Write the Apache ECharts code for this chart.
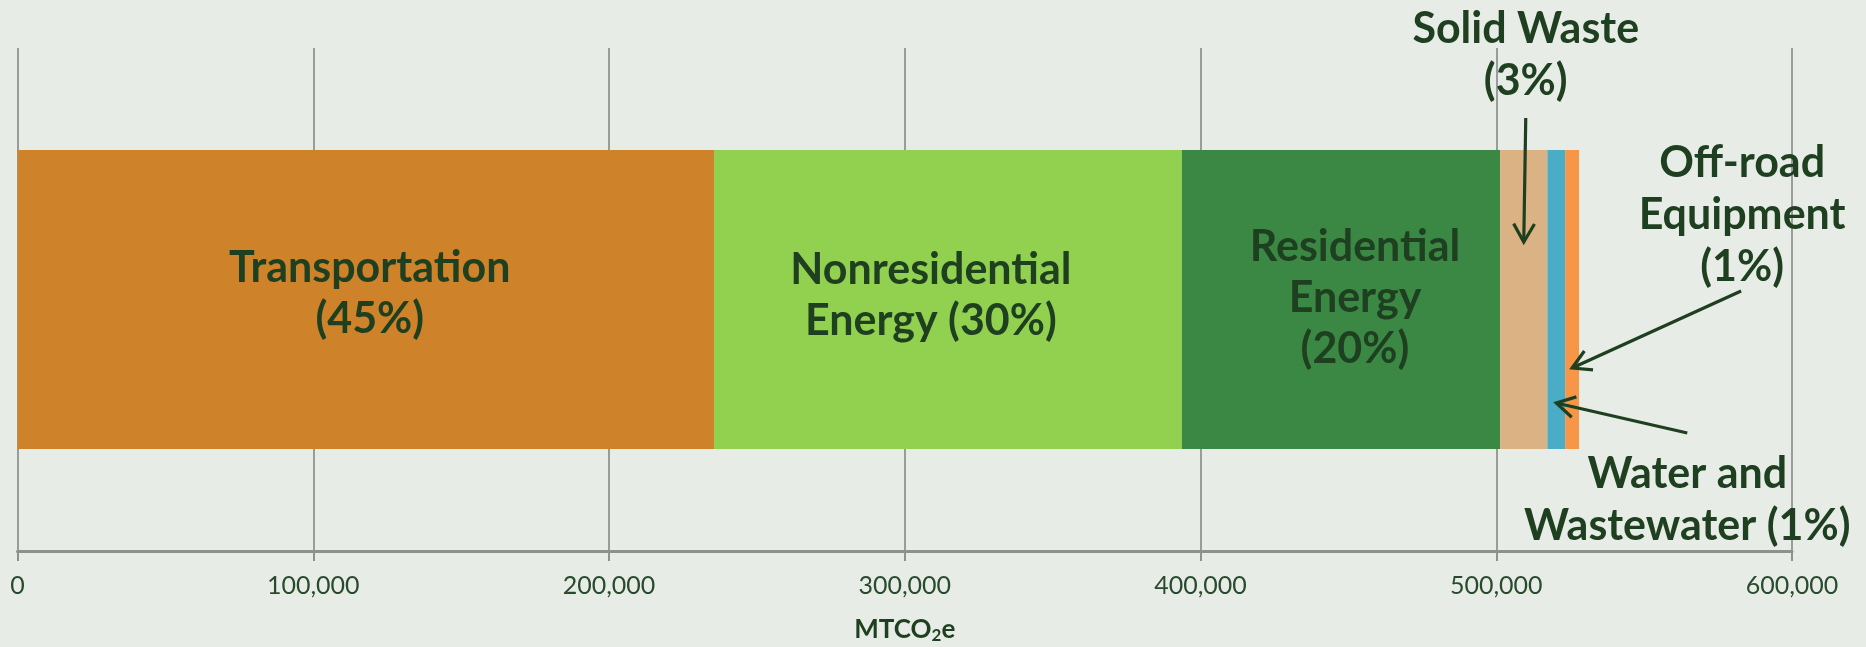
<!DOCTYPE html>
<html>
<head>
<meta charset="utf-8">
<script src="https://cdn.jsdelivr.net/npm/echarts@6/dist/echarts.min.js"></script>
<style>
html,body{margin:0;padding:0;background:#E7ECE6;}
#chart{width:1866px;height:647px;}
</style>
</head>
<body>
<div id="chart"></div>
<script>
// ---- data ----
const categories = ['Transportation', 'Nonresidential Energy', 'Residential Energy', 'Solid Waste', 'Water and Wastewater', 'Off-road Equipment'];
const values = [235500, 158200, 107600, 16000, 6000, 4700];
const percents = [45, 30, 20, 3, 1, 1];
const labelTexts = ['Transportation\n(45%)', 'Nonresidential\nEnergy (30%)', 'Residential\nEnergy\n(20%)', 'Solid Waste\n(3%)', 'Off-road\nEquipment\n(1%)', 'Water and\nWastewater (1%)'];
const colors = ['#CE8229', '#92D050', '#3A8843', '#DBB283', '#4BACC6', '#F79646'];
const axisMin = 0, axisMax = 600000, axisInterval = 100000;
const axisTitle = 'MTCO';

const TEXT = '#1E3F20';
const FONT = 'Lato, "DejaVu Sans", sans-serif';
const LABEL_SIZE = 43;
const insideLabelOffsets = [[4, -6], [-17, -4], [14, -1]];

const chart = echarts.init(document.getElementById('chart'), null, {renderer: 'canvas'});

const series = categories.map((name, i) => ({
  name: name,
  type: 'bar',
  stack: 'total',
  barWidth: 299,
  data: [values[i]],
  itemStyle: {color: colors[i]},
  label: i < 3 ? {
    show: true,
    position: 'inside',
    formatter: labelTexts[i],
    offset: insideLabelOffsets[i],
    color: TEXT,
    fontFamily: FONT,
    fontWeight: 'bold',
    fontSize: LABEL_SIZE,
    lineHeight: 51
  } : {show: false},
  emphasis: {disabled: true},
  animation: false
}));

chart.setOption({
  backgroundColor: '#E7ECE6',
  animation: false,
  grid: {left: 17.5, right: 74, top: 48, bottom: 96, containLabel: false, outerBoundsMode: 'none'},
  xAxis: {
    type: 'value',
    min: axisMin,
    max: axisMax,
    interval: axisInterval,
    axisLine: {show: true, lineStyle: {color: '#8E918D', width: 3}},
    axisTick: {show: true, length: 10, lineStyle: {color: '#8E918D', width: 2}},
    splitLine: {show: true, lineStyle: {color: '#9A9C99', width: 2}},
    axisLabel: {
      color: '#2A4A2D',
      fontFamily: FONT,
      fontSize: 25,
      margin: 22,
      formatter: v => v.toLocaleString('en-US')
    },
    name: '{a|' + axisTitle + '}{s|2}{a|e}',
    nameLocation: 'middle',
    nameGap: 64,
    nameTextStyle: {
      rich: {
        a: {color: TEXT, fontFamily: FONT, fontWeight: 'bold', fontSize: 26},
        s: {color: TEXT, fontFamily: FONT, fontWeight: 'bold', fontSize: 17, padding: [12, 0, 0, 0]}
      }
    }
  },
  yAxis: {
    type: 'category',
    data: [''],
    show: false
  },
  series: series
});

// ---- annotations (positioned from data through the axis scale) ----
const starts = [];
values.reduce((acc, v, i) => { starts[i] = acc; return acc + v; }, 0);
const mid = i => chart.convertToPixel({xAxisIndex: 0}, starts[i] + values[i] / 2);

function arrow(x1, y1, x2, y2) {
  const ang = Math.atan2(y2 - y1, x2 - x1);
  const L = 21, spread = 0.52;
  const a1 = ang + Math.PI - spread, a2 = ang + Math.PI + spread;
  const style = {stroke: TEXT, lineWidth: 3.2, fill: null, lineCap: 'butt'};
  return [
    {type: 'line', z: 100, shape: {x1: x1, y1: y1, x2: x2, y2: y2}, style: style, silent: true},
    {type: 'polyline', z: 100, shape: {points: [[x2 + L * Math.cos(a1), y2 + L * Math.sin(a1)], [x2, y2], [x2 + L * Math.cos(a2), y2 + L * Math.sin(a2)]]}, style: style, silent: true}
  ];
}
function note(text, x, y) {
  return {
    type: 'text', silent: true, z: 100,
    style: {text: text, x: x, y: y, align: 'center', verticalAlign: 'middle',
      fill: TEXT, font: 'bold ' + LABEL_SIZE + 'px ' + FONT, lineHeight: 52}
  };
}

const xSolid = mid(3), xWater = mid(4), xOff = mid(5);
const graphics = [];
graphics.push(note(labelTexts[3], xSolid + 2, 55));
graphics.push(...arrow(xSolid + 2, 118, xSolid, 242));
graphics.push(note(labelTexts[4], xOff + 170, 215));
graphics.push(...arrow(xOff + 169, 291, xOff, 368));
graphics.push(note(labelTexts[5], xWater + 131, 500));
graphics.push(...arrow(xWater + 131, 433, xWater, 403));

chart.setOption({graphic: graphics});
</script>
</body>
</html>
